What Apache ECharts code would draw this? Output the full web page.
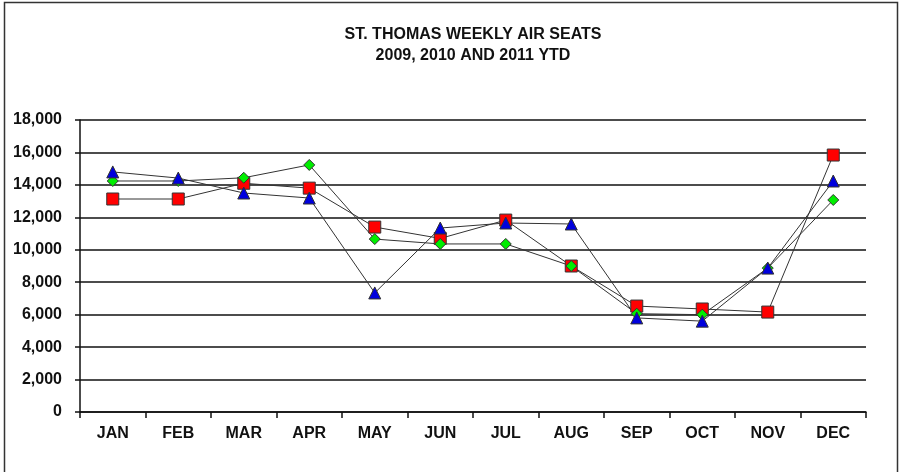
<!DOCTYPE html>
<html>
<head>
<meta charset="utf-8">
<script src="https://cdn.jsdelivr.net/npm/echarts@6/dist/echarts.min.js"></script>
<style>
  html, body { margin: 0; padding: 0; background: #fff; }
  #chart { width: 904px; height: 472px; }
</style>
</head>
<body>
<div id="chart"></div>
<script>
// months and weekly seat counts
const months = ['JAN', 'FEB', 'MAR', 'APR', 'MAY', 'JUN', 'JUL', 'AUG', 'SEP', 'OCT', 'NOV', 'DEC'];
const seatsRed = [13130, 13130, 14100, 13800, 11400, 10700, 11830, 9000, 6530, 6350, 6160, 15840];
const seatsGreen = [14240, 14240, 14440, 15230, 10660, 10360, 10360, 9000, 6060, 6000, 8870, 13070];
const seatsBlue = [14800, 14420, 13500, 13190, 7340, 11340, 11650, 11590, 5800, 5600, 8870, 14240];
const titleLines = ['ST. THOMAS WEEKLY AIR SEATS', '2009, 2010 AND 2011 YTD'];

const chart = echarts.init(document.getElementById('chart'));

const mkSeries = (name, data, symbol, size, color) => ({
  name: name,
  type: 'line',
  data: data,
  symbol: symbol,
  symbolSize: size,
  showAllSymbol: true,
  lineStyle: { color: '#333', width: 1 },
  itemStyle: { color: color, borderColor: '#333', borderWidth: 1 },
  animation: false
});

const labelFont = { fontFamily: 'Liberation Sans', fontWeight: 'bold', color: '#111' };

chart.setOption({
  animation: false,
  title: {
    text: titleLines.join('\n'),
    left: 468,
    top: 19,
    textAlign: 'center',
    textStyle: Object.assign({ fontSize: 16, lineHeight: 21 }, labelFont)
  },
  graphic: [{
    type: 'rect',
    shape: { x: 4.5, y: 2.5, width: 893, height: 475 },
    style: { fill: 'none', stroke: '#333', lineWidth: 1.5 }
  }],
  grid: { left: 80, right: 38, top: 120, bottom: 60 },
  xAxis: {
    type: 'category',
    data: months,
    boundaryGap: true,
    axisLine: { lineStyle: { color: '#111', width: 1.5 } },
    axisTick: { show: true, length: 6, lineStyle: { color: '#111', width: 1.5 } },
    axisLabel: Object.assign({ fontSize: 16, margin: 14 }, labelFont)
  },
  yAxis: {
    type: 'value',
    min: 0,
    max: 18000,
    interval: 2000,
    axisLine: { show: true, lineStyle: { color: '#111', width: 1.5 } },
    axisTick: { show: true, length: 5, lineStyle: { color: '#111', width: 1.5 } },
    splitLine: { lineStyle: { color: '#111', width: 1.5 } },
    axisLabel: Object.assign({
      fontSize: 16, margin: 18,
      formatter: v => v.toLocaleString('en-US')
    }, labelFont)
  },
  series: [
    mkSeries('2009', seatsRed, 'rect', 12, '#ff0000'),
    mkSeries('2010', seatsGreen, 'diamond', 11, '#00ee00'),
    mkSeries('2011', seatsBlue, 'triangle', 12, '#0000dd')
  ]
});
</script>
</body>
</html>
